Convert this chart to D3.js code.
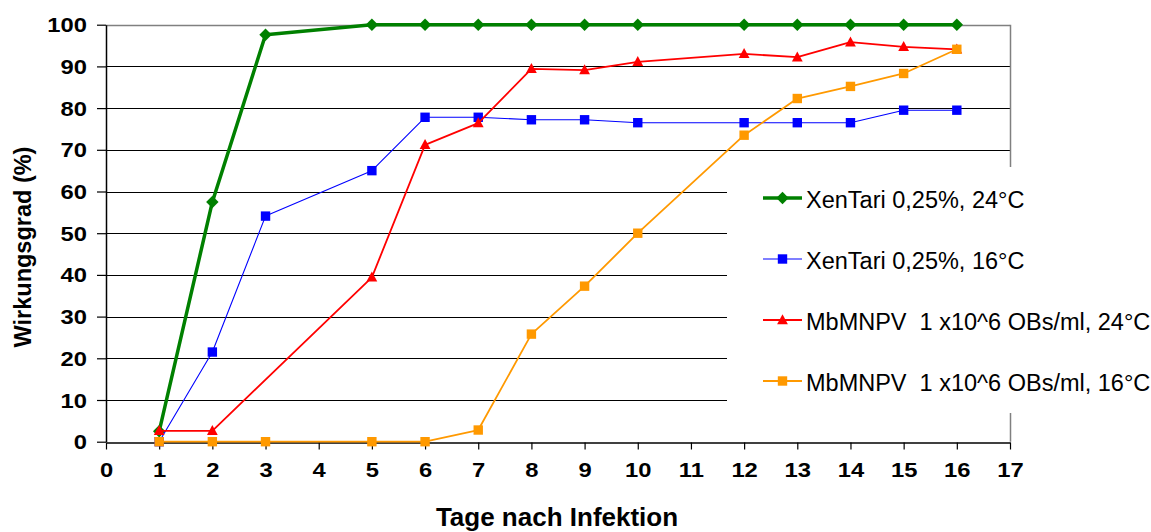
<!DOCTYPE html>
<html>
<head>
<meta charset="utf-8">
<script src="https://cdn.jsdelivr.net/npm/d3@7"></script>
<style>
  html, body { margin: 0; padding: 0; background: #fff; }
  svg { display: block; font-family: "Liberation Sans", Arial, sans-serif; }
</style>
</head>
<body>
<svg id="chart" width="1151" height="532"></svg>
<script>
// Days after infection at which each treatment was assessed
const daysXenTari24 = [1, 2, 3, 5, 6, 7, 8, 9, 10, 12, 13, 14, 15, 16];
const daysXenTari16 = [1, 2, 3, 5, 6, 7, 8, 9, 10, 12, 13, 14, 15, 16];
const daysMbMNPV24  = [1, 2, 5, 6, 7, 8, 9, 10, 12, 13, 14, 15, 16];
const daysMbMNPV16  = [1, 2, 3, 5, 6, 7, 8, 9, 10, 12, 13, 14, 15, 16];

// Efficacy (%) per assessment day
const xenTari24 = [2.5, 57.5, 97.6, 100, 100, 100, 100, 100, 100, 100, 100, 100, 100, 100];
const xenTari16 = [0, 21.5, 54.1, 65, 77.8, 77.8, 77.2, 77.2, 76.5, 76.5, 76.5, 76.5, 79.5, 79.5];
const mbMNPV24  = [2.6, 2.6, 39.4, 71.2, 76.4, 89.4, 89.1, 91.1, 93.0, 92.2, 95.8, 94.7, 94.1];
const mbMNPV16  = [0, 0, 0, 0, 0, 2.8, 25.8, 37.3, 50.0, 73.5, 82.3, 85.2, 88.3, 94.1];

const seriesNames = [
  "XenTari 0,25%, 24°C",
  "XenTari 0,25%, 16°C",
  "MbMNPV  1 x10^6 OBs/ml, 24°C",
  "MbMNPV  1 x10^6 OBs/ml, 16°C"
];

const xTicks = d3.range(0, 18);
const yTicks = d3.range(0, 101, 10);
const xTitle = "Tage nach Infektion";
const yTitle = "Wirkungsgrad (%)";

const series = [
  { name: seriesNames[0], days: daysXenTari24, values: xenTari24, color: "#008000", width: 3.5, marker: "diamond" },
  { name: seriesNames[1], days: daysXenTari16, values: xenTari16, color: "#0000ff", width: 1.1, marker: "square" },
  { name: seriesNames[2], days: daysMbMNPV24,  values: mbMNPV24,  color: "#ff0000", width: 1.8, marker: "triangle" },
  { name: seriesNames[3], days: daysMbMNPV16,  values: mbMNPV16,  color: "#ff9900", width: 1.8, marker: "square" }
];

const svg = d3.select("#chart");
const plotLeft = 106, plotRight = 1010, plotTop = 24.7, plotBottom = 441.7;

const x = d3.scaleLinear().domain([0, 17]).range([plotLeft, plotRight]);
const y = d3.scaleLinear().domain([0, 100]).range([plotBottom, plotTop]);

// Horizontal gridlines
svg.append("g")
  .selectAll("line")
  .data(yTicks.filter(v => v > 0 && v < 100))
  .join("line")
  .attr("x1", plotLeft).attr("x2", plotRight)
  .attr("y1", d => Math.round(y(d)) + 0.5).attr("y2", d => Math.round(y(d)) + 0.5)
  .attr("stroke", "#000").attr("stroke-width", 1);

// Plot border (top and right)
svg.append("line")
  .attr("x1", plotLeft).attr("x2", plotRight)
  .attr("y1", Math.round(plotTop) + 0.5).attr("y2", Math.round(plotTop) + 0.5)
  .attr("stroke", "#808080").attr("stroke-width", 1.5);
svg.append("line")
  .attr("x1", plotRight + 0.5).attr("x2", plotRight + 0.5)
  .attr("y1", plotTop).attr("y2", plotBottom)
  .attr("stroke", "#808080").attr("stroke-width", 1.5);

// Legend background sits over the plot area
svg.append("rect")
  .attr("x", 727).attr("y", 167).attr("width", 424).attr("height", 246)
  .attr("fill", "#fff");

// Axes
const labelFont = "bold 19.5px 'Liberation Sans', Arial, sans-serif";
const xAxis = svg.append("g")
  .attr("transform", `translate(0,${Math.round(plotBottom) + 0.5})`)
  .call(d3.axisBottom(x).tickValues(xTicks).tickSize(7).tickSizeOuter(0).tickFormat(d3.format("d")));
xAxis.select(".domain").attr("stroke", "#000").attr("stroke-width", 1.5);
xAxis.selectAll(".tick line").attr("stroke", "#000").attr("stroke-width", 1.2);
xAxis.selectAll(".tick text")
  .attr("y", 0).attr("dy", null)
  .attr("transform", "translate(0,34) scale(1.22,1)")
  .style("font", labelFont).attr("fill", "#000");

const yAxis = svg.append("g")
  .attr("transform", `translate(${plotLeft},0)`)
  .call(d3.axisLeft(y).tickValues(yTicks).tickSize(9).tickSizeOuter(0).tickFormat(d3.format("d")));
yAxis.select(".domain").attr("stroke", "#000").attr("stroke-width", 1.5);
yAxis.selectAll(".tick line").attr("stroke", "#000").attr("stroke-width", 1.2);
yAxis.selectAll(".tick text")
  .attr("x", 0).attr("dy", "0.36em")
  .attr("transform", "translate(-19,0) scale(1.22,1)")
  .style("font", labelFont).attr("fill", "#000");

// Axis titles
svg.append("text")
  .attr("x", 557).attr("y", 526)
  .attr("text-anchor", "middle")
  .style("font", "bold 26px 'Liberation Sans', Arial, sans-serif")
  .text(xTitle);
svg.append("text")
  .attr("transform", "translate(30.5,247) rotate(-90)")
  .attr("text-anchor", "middle")
  .style("font", "bold 23.5px 'Liberation Sans', Arial, sans-serif")
  .text(yTitle);

// Marker shapes
function markerPath(type) {
  if (type === "diamond") return "M0,-6.2L6.2,0L0,6.2L-6.2,0Z";
  if (type === "triangle") return "M0,-5.8L5.4,4.2L-5.4,4.2Z";
  return "M-4.7,-4.7H4.7V4.7H-4.7Z";
}

const line = d3.line().x(d => x(d[0])).y(d => y(d[1]));

series.forEach(s => {
  const pts = s.days.map((d, i) => [d, s.values[i]]);
  const g = svg.append("g");
  g.append("path")
    .attr("d", line(pts))
    .attr("fill", "none")
    .attr("stroke", s.color)
    .attr("stroke-width", s.width)
    .attr("stroke-linejoin", "round");
  g.selectAll("path.m")
    .data(pts)
    .join("path")
    .attr("class", "m")
    .attr("d", markerPath(s.marker))
    .attr("transform", d => `translate(${x(d[0])},${y(d[1])})`)
    .attr("fill", s.color);
});

// Legend
const legend = svg.append("g");
series.forEach((s, i) => {
  const base = 207.5 + i * 61;
  const ly = base - 9.5;
  const g = legend.append("g");
  g.append("line")
    .attr("x1", 763).attr("x2", 802)
    .attr("y1", ly).attr("y2", ly)
    .attr("stroke", s.color).attr("stroke-width", s.width);
  g.append("path")
    .attr("d", markerPath(s.marker))
    .attr("transform", `translate(782.5,${ly})`)
    .attr("fill", s.color);
  g.append("text")
    .attr("x", 806).attr("y", base)
    .style("font", "23.5px 'Liberation Sans', Arial, sans-serif")
    .style("white-space", "pre")
    .attr("fill", "#000")
    .text(s.name);
});
</script>
</body>
</html>
